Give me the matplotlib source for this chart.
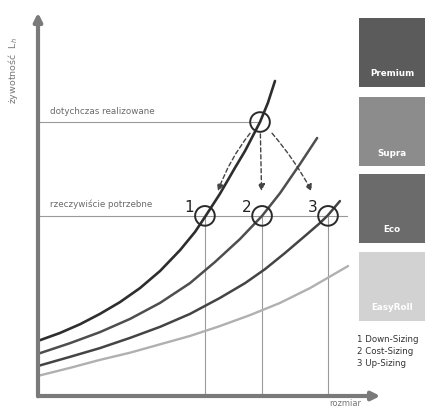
import matplotlib
matplotlib.use("Agg")
import matplotlib.pyplot as plt
from matplotlib.patches import Rectangle

plt.rcParams['font.family'] = ['DejaVu Sans']

# krzywe żywotności (rozmiar -> żywotność), jednostki umowne 0..100
premium_x = [0, 6.5, 12.4, 18.2, 24.1, 30.0, 35.9, 41.8, 46.2, 49.1, 53.5, 57.9,
             60.9, 63.8, 65.3, 67.6, 69.7]
premium_y = [14.5, 16.6, 18.9, 21.6, 24.7, 28.4, 32.9, 38.4, 43.2, 47.1, 53.2, 60.0,
             64.5, 69.5, 72.1, 77.1, 82.9]
supra_x = [0, 9.4, 18.2, 27.1, 35.9, 44.7, 52.1, 59.4, 65.9, 71.2, 77.1, 82.1]
supra_y = [11.1, 13.9, 16.8, 20.3, 24.5, 29.7, 35.3, 41.3, 47.4, 53.4, 61.1, 67.9]
eco_x = [0, 9.4, 18.2, 27.1, 35.9, 44.7, 53.5, 60.9, 66.8, 72.6, 78.5, 82.9, 85.3, 88.8]
eco_y = [7.9, 10.3, 12.6, 15.3, 18.2, 21.6, 25.8, 29.7, 33.4, 37.6, 42.1, 45.5, 47.6, 51.3]
easy_x = [0, 9.4, 18.2, 27.1, 35.9, 44.7, 53.5, 62.4, 71.2, 80.0, 91.2]
easy_y = [5.3, 7.4, 9.5, 11.4, 13.6, 15.8, 18.4, 21.3, 24.5, 28.4, 34.2]

# poziomy żywotności
poziom_dotychczas = 72.1
poziom_potrzebny = 47.4
punkt_start = 65.3                     # rozmiar dotychczas stosowany
punkty_x = [49.1, 65.9, 85.3]          # Down-, Cost-, Up-Sizing
punkty_nr = ['1', '2', '3']

serie = ['Premium', 'Supra', 'Eco', 'EasyRoll']
kolory_box = ['#5b5b5b', '#8c8c8c', '#6b6b6b', '#d2d2d2']
legenda = ['1 Down-Sizing', '2 Cost-Sizing', '3 Up-Sizing']

fig = plt.figure(figsize=(4.30, 4.08), dpi=100)
ax = fig.add_axes([38 / 430, 12 / 408, 340 / 430, 380 / 408])
ax.set_xlim(0, 100)
ax.set_ylim(0, 100)
ax.axis('off')

# linie pomocnicze
ax.plot([0, punkt_start], [poziom_dotychczas] * 2, color='#9a9a9a', lw=0.8)
ax.plot([0, 91], [poziom_potrzebny] * 2, color='#9a9a9a', lw=0.8)
for px in punkty_x:
    ax.plot([px, px], [0, poziom_potrzebny], color='#9a9a9a', lw=0.8)

# krzywe
styl = dict(solid_capstyle='round', solid_joinstyle='round')
ax.plot(easy_x, easy_y, color='#b0b0b0', lw=1.7, **styl)
ax.plot(eco_x, eco_y, color='#444444', lw=1.8, **styl)
ax.plot(supra_x, supra_y, color='#4e4e4e', lw=1.8, **styl)
ax.plot(premium_x, premium_y, color='#2e2e2e', lw=1.9, **styl)

# okręgi
ax.scatter([punkt_start] + punkty_x, [poziom_dotychczas] + [poziom_potrzebny] * 3,
           s=200, facecolors='none', edgecolors='#2a2a2a', linewidths=1.4, zorder=5)

# strzałki przerywane
for px, rad in zip(punkty_x, [0.09, 0.0, -0.06]):
    ax.annotate('', xy=(px + (punkt_start - px) * 0.22, poziom_potrzebny + 5.8),
                xytext=(punkt_start + (px - punkt_start) * 0.15, poziom_dotychczas - 2.4),
                arrowprops=dict(arrowstyle='-|>', color='#444444', lw=1.0,
                                linestyle=(0, (3, 2)), mutation_scale=10,
                                connectionstyle=f'arc3,rad={rad}'))

for px, nr in zip(punkty_x, punkty_nr):
    ax.text(px - 4.6, poziom_potrzebny + 2.1, nr, fontsize=11, color='#222222',
            ha='center', va='center')

ax.text(3.5, poziom_dotychczas + 1.5, 'dotychczas realizowane', fontsize=6.3,
        color='#6a6a6a', va='bottom')
ax.text(3.5, poziom_potrzebny + 1.8, 'rzeczywiście potrzebne', fontsize=6.3,
        color='#6a6a6a', va='bottom')

# osie ze strzałkami
ax.annotate('', xy=(0, 101.6), xytext=(0, -0.8),
            arrowprops=dict(arrowstyle='-|>', color='#7a7a7a', lw=3, mutation_scale=12),
            annotation_clip=False)
ax.annotate('', xy=(101.5, 0), xytext=(-0.8, 0),
            arrowprops=dict(arrowstyle='-|>', color='#7a7a7a', lw=3, mutation_scale=12),
            annotation_clip=False)
ax.text(-7.4, 85.8, 'żywotność  L$_h$', rotation=90, fontsize=6.8, color='#777777',
        ha='center', va='center', clip_on=False)
ax.text(90.3, -1.9, 'rozmiar', fontsize=6.0, color='#777777', ha='center', va='center',
        clip_on=False)

# legenda z prostokątami
box_top = [18, 97, 174, 252]
for nazwa, kolor, top in zip(serie, kolory_box, box_top):
    h = 69
    fig.add_artist(Rectangle((359 / 430, 1 - (top + h) / 408), 66 / 430, h / 408,
                             transform=fig.transFigure, facecolor=kolor, edgecolor='none'))
    fig.text(392 / 430, 1 - (top + h - 13) / 408, nazwa, fontsize=6.3, fontweight='bold',
             color='white', ha='center', va='center')

for i, t in enumerate(legenda):
    fig.text(357 / 430, 1 - (340 + i * 12) / 408, t, fontsize=6.2, color='#333333',
             ha='left', va='center')

fig.savefig('out.png', dpi=100)
